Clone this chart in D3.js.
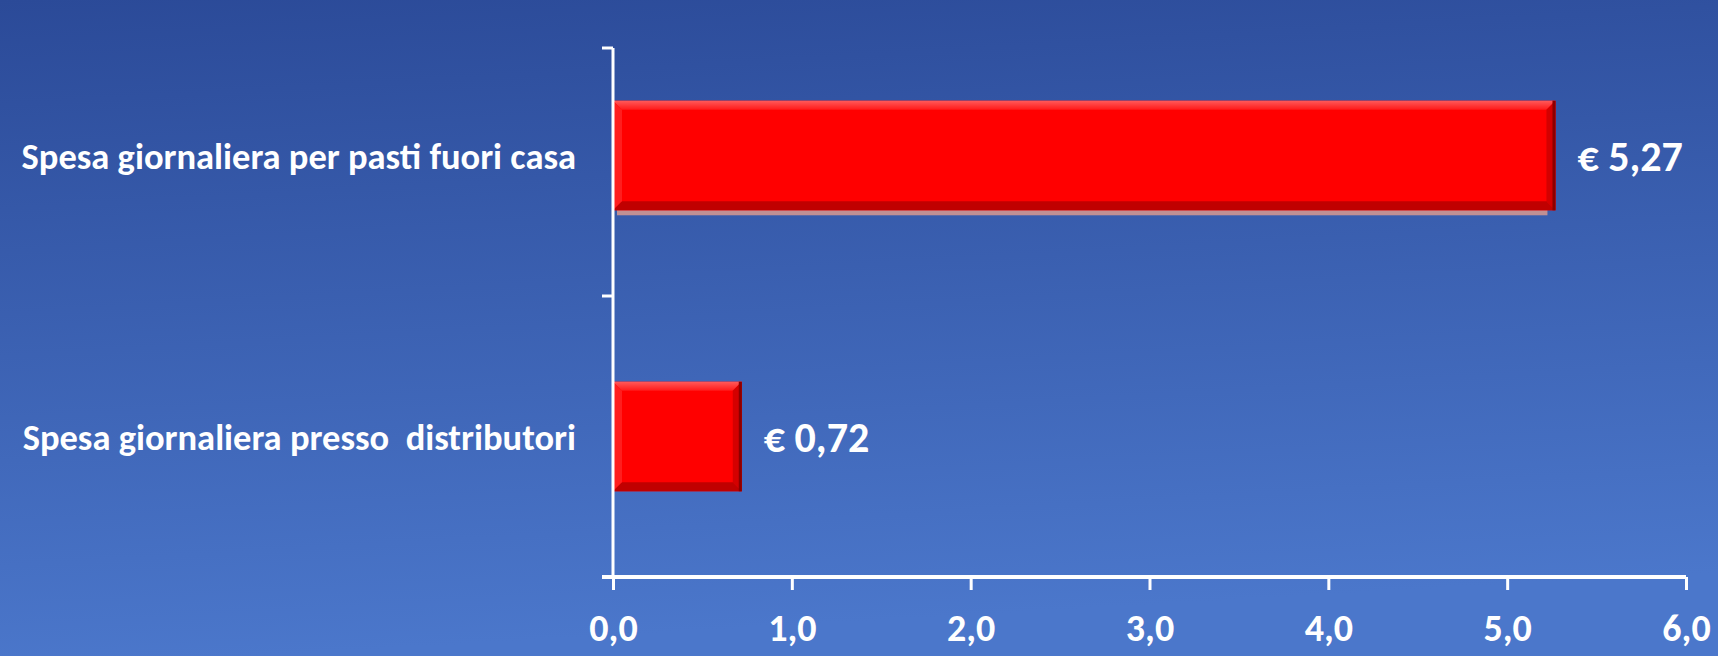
<!DOCTYPE html>
<html>
<head>
<meta charset="utf-8">
<script src="https://cdn.jsdelivr.net/npm/d3@7"></script>
<style>
  html, body { margin: 0; padding: 0; overflow: hidden; }
  svg { display: block; }
  text { font-family: Carlito, Lato, "Open Sans", sans-serif; font-weight: 900; fill: #fff; }
</style>
</head>
<body>
<svg width="1718" height="656"></svg>
<script>
const categories = ["Spesa giornaliera per pasti fuori casa", "Spesa giornaliera presso  distributori"]
const values = [5.27, 0.72]
const valueLabels = ["€ 5,27", "€ 0,72"]
const xTicks = [0, 1, 2, 3, 4, 5, 6]

const width = 1718,
  height = 656,
  axisLeft = 613,
  axisRight = 1686,
  axisTop = 48,
  axisBottom = 577

const svg = d3.select("svg")
const defs = svg.append("defs")

const bg = defs.append("linearGradient")
  .attr("id", "bg")
  .attr("x1", 0).attr("y1", 0).attr("x2", 0.15).attr("y2", 1)
bg.append("stop").attr("offset", "0%").attr("stop-color", "#2b4a98")
bg.append("stop").attr("offset", "100%").attr("stop-color", "#4b77cb")

const topBevel = defs.append("linearGradient")
  .attr("id", "topBevel")
  .attr("x1", 0).attr("y1", 0).attr("x2", 0).attr("y2", 1)
topBevel.append("stop").attr("offset", "0%").attr("stop-color", "#ff5a5a")
topBevel.append("stop").attr("offset", "100%").attr("stop-color", "#ff1a1a")

svg.append("rect")
  .attr("width", width)
  .attr("height", height)
  .attr("fill", "url(#bg)")

const x = d3.scaleLinear().domain([0, 6]).range([axisLeft, axisRight])
const y = d3.scaleBand()
  .domain(categories)
  .range([15, axisBottom])
  .paddingInner(0.61)
  .paddingOuter(0.305)

const bevel = 9

const bars = svg.selectAll(".bar")
  .data(categories.map((c, i) => ({ cat: c, value: values[i], label: valueLabels[i], i })))
  .enter()
  .append("g")
  .attr("class", "bar")
  .attr("transform", d => `translate(${x(0)},${y(d.cat)})`)

// soft shadow strip under the long bar
bars.filter(d => d.i === 0)
  .append("rect")
  .attr("x", 4)
  .attr("y", y.bandwidth() - 1)
  .attr("width", d => x(d.value) - x(0) - 12)
  .attr("height", 6)
  .attr("fill", "#c09094")

bars.append("rect")
  .attr("x", 0)
  .attr("y", 0)
  .attr("width", d => x(d.value) - x(0))
  .attr("height", y.bandwidth())
  .attr("fill", "#ff0000")

// bevel edges
bars.append("polygon")
  .attr("points", d => {
    const w = x(d.value) - x(0)
    return `0,0 ${w},0 ${w - bevel},${bevel} ${bevel},${bevel}`
  })
  .attr("fill", "url(#topBevel)")

bars.append("polygon")
  .attr("points", d => {
    const h = y.bandwidth()
    return `0,0 ${bevel},${bevel} ${bevel},${h - bevel} 0,${h}`
  })
  .attr("fill", "#ff1e1e")

bars.append("polygon")
  .attr("points", d => {
    const w = x(d.value) - x(0), h = y.bandwidth()
    return `${w},0 ${w},${h} ${w - bevel},${h - bevel} ${w - bevel},${bevel}`
  })
  .attr("fill", "#d40000")

bars.append("polygon")
  .attr("points", d => {
    const w = x(d.value) - x(0), h = y.bandwidth()
    return `0,${h} ${w},${h} ${w - bevel},${h - bevel} ${bevel},${h - bevel}`
  })
  .attr("fill", "#c00000")

bars.append("rect")
  .attr("x", d => x(d.value) - x(0) - 3)
  .attr("y", 0)
  .attr("width", 3)
  .attr("height", y.bandwidth())
  .attr("fill", "#8a0000")

// value labels
bars.append("text")
  .attr("x", d => x(d.value) - x(0) + 22)
  .attr("y", y.bandwidth() / 2)
  .attr("dy", "0.36em")
  .attr("xml:space", "preserve")
  .style("font-size", "42px")
  .text(d => d.label)

// y axis
const yAxisG = svg.append("g")
yAxisG.append("line")
  .attr("x1", axisLeft).attr("x2", axisLeft)
  .attr("y1", axisTop).attr("y2", axisBottom)
  .attr("stroke", "#fff").attr("stroke-width", 3)

const yBounds = [axisTop, y(categories[1]) - y.step() * y.paddingInner() / 2, axisBottom]
yAxisG.selectAll(".ytick")
  .data(yBounds)
  .enter()
  .append("line")
  .attr("x1", axisLeft - 11).attr("x2", axisLeft)
  .attr("y1", d => d).attr("y2", d => d)
  .attr("stroke", "#fff").attr("stroke-width", 3)

yAxisG.selectAll(".ylabel")
  .data(categories)
  .enter()
  .append("text")
  .attr("x", axisLeft - 37)
  .attr("y", d => y(d) + y.bandwidth() / 2)
  .attr("dy", "0.36em")
  .attr("text-anchor", "end")
  .attr("xml:space", "preserve")
  .style("font-size", "36.5px")
  .text(d => d)

// x axis
const fmt = d => d3.format(".1f")(d).replace(".", ",")
const xAxis = svg.append("g")
  .attr("transform", `translate(0,${axisBottom})`)
  .call(d3.axisBottom(x).tickValues(xTicks).tickFormat(fmt).tickSize(13).tickPadding(24).tickSizeOuter(0))

xAxis.select(".domain")
  .attr("stroke", "#fff")
  .attr("stroke-width", 4)
  .attr("d", `M${axisLeft - 11},0H${axisRight}`)
xAxis.selectAll(".tick line")
  .attr("stroke", "#fff")
  .attr("stroke-width", 3)
xAxis.selectAll(".tick text")
  .style("font-size", "38px")
  .style("font-family", "Carlito, Lato, sans-serif")
  .style("font-weight", 900)
  .attr("fill", "#fff")
</script>
</body>
</html>
